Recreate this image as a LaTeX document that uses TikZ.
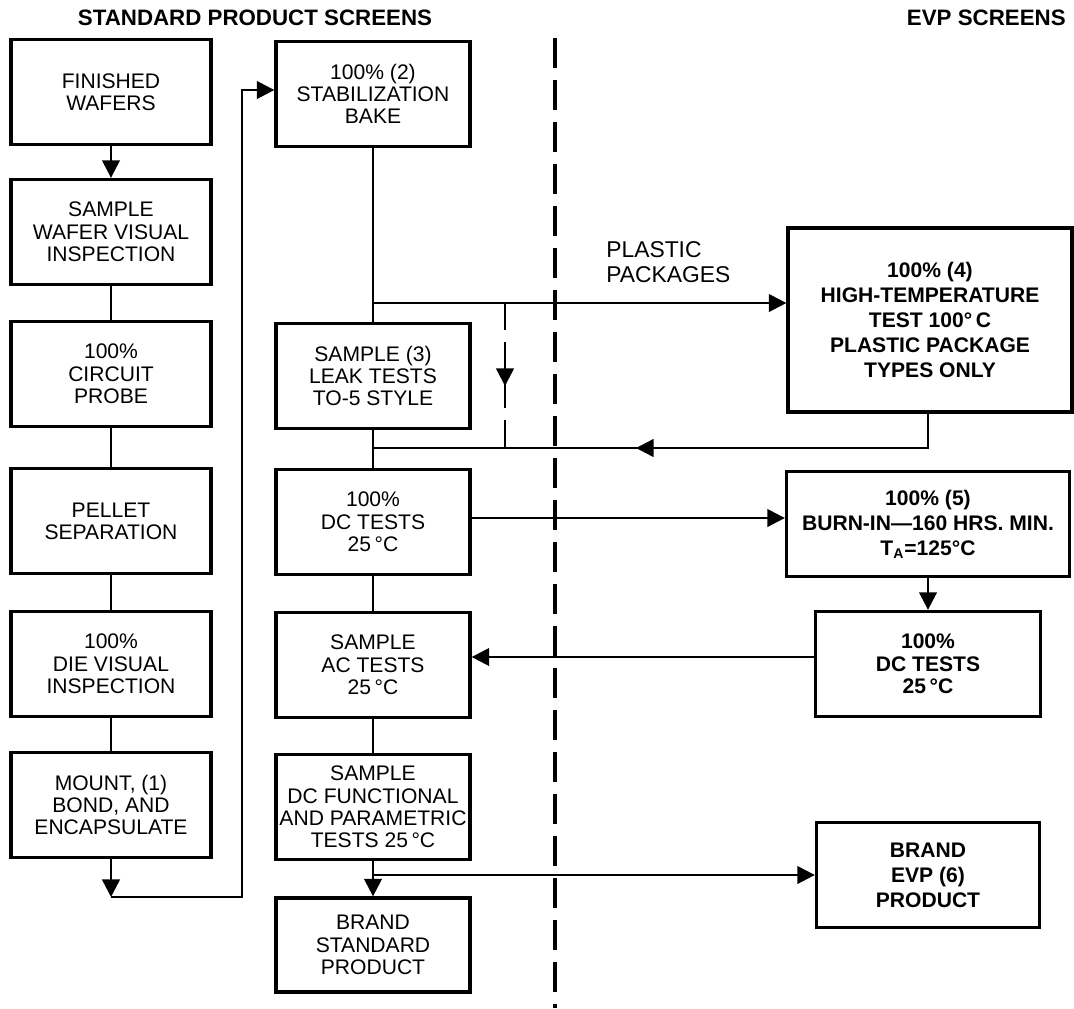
\documentclass[tikz,border=0pt]{standalone}
\usepackage{fontspec}
\setmainfont{Liberation Sans}
\usetikzlibrary{arrows.meta}

\tikzstyle{bS}=[draw, line width=1.9pt, minimum width=4cm, minimum height=2.1cm, inner sep=0pt, align=center, font=\fontsize{12}{12.7}\selectfont]
\tikzstyle{bM}=[bS, minimum width=3.88cm]
\tikzstyle{bR}=[bS, font=\fontsize{12}{14.2}\selectfont\bfseries]
\tikzstyle{hS}=[inner sep=0pt, font=\fontsize{12.7}{14}\selectfont\bfseries]
\tikzstyle{lS}=[line width=1.4pt]
\tikzstyle{aS}=[lS, -{Triangle[length=10pt,width=10pt]}]
\tikzstyle{dS}=[line width=2pt, dash pattern=on 0.6cm off 0.24cm]

\begin{document}
\begin{tikzpicture}[x=0.02cm, y=-0.02cm]
    \useasboundingbox (0,0) rectangle (1074,1008);
    \draw (255,18) node[hS] (hStd) {STANDARD PRODUCT SCREENS};
    \draw (1066,18) node[hS, anchor=east] (hEvp) {EVP SCREENS};
    % standard product column
    \draw (111,92) node[bS] (fw) {FINISHED\\WAFERS};
    \draw (111,232) node[bS] (swv) {SAMPLE\\WAFER VISUAL\\INSPECTION};
    \draw (111,374) node[bS] (cp) {100\%\\CIRCUIT\\PROBE};
    \draw (111,521) node[bS] (ps) {PELLET\\SEPARATION};
    \draw (111,664) node[bS] (dvi) {100\%\\DIE VISUAL\\INSPECTION};
    \draw (111,805) node[bS] (mbe) {MOUNT, (1)\\BOND, AND\\ENCAPSULATE};
    \draw (373,94) node[bM] (sb) {100\% (2)\\STABILIZATION\\BAKE};
    \draw (373,376) node[bM] (lt) {SAMPLE (3)\\LEAK TESTS\\TO-5 STYLE};
    \draw (373,522) node[bM] (dc) {100\%\\DC TESTS\\25\,°C};
    \draw (373,665) node[bM] (ac) {SAMPLE\\AC TESTS\\25\,°C};
    \draw (373,807) node[bM] (df) {SAMPLE\\DC FUNCTIONAL\\AND PARAMETRIC\\TESTS 25\,°C};
    \draw (373,945) node[bM, minimum height=1.88cm] (bs) {BRAND\\STANDARD\\PRODUCT};
    % evp column
    \draw (606,262) node[anchor=west, inner sep=0pt, align=left, font=\fontsize{13}{14}\selectfont] (pl) {PLASTIC\\PACKAGES};
    \draw (930,320) node[bR, minimum width=5.68cm, minimum height=3.68cm] (ht) {100\% (4)\\HIGH-TEMPERATURE\\TEST 100°\,C\\PLASTIC PACKAGE\\TYPES ONLY};
    \draw (928,524) node[bR, minimum width=5.66cm] (bi) {100\% (5)\\BURN-IN—160 HRS. MIN.\\T\textsubscript{A}=125°C};
    \draw (928,664) node[bR, minimum width=4.5cm, font=\fontsize{12}{12.7}\selectfont\bfseries] (rdc) {100\%\\DC TESTS\\25\,°C};
    \draw (928,875) node[bR, minimum width=4.46cm] (be) {BRAND\\EVP (6)\\PRODUCT};
    \coordinate (lpB) at (111,897);
    \coordinate (lpT) at (242,90);
    \coordinate (pp) at (373,303);
    \coordinate (pr) at (373,448);
    \coordinate (pb) at (373,875);
    \coordinate (rt) at (928,448);
    \coordinate (dT) at (505,303);
    \coordinate (dB) at (505,448);
    \coordinate (divT) at (555,38);
    \coordinate (divB) at (555,1008);
    \path
        (fw) edge[aS] (swv)
        (swv) edge[lS] (cp)
        (cp) edge[lS] (ps)
        (ps) edge[lS] (dvi)
        (dvi) edge[lS] (mbe)
        (mbe) edge[aS] (lpB)
        (sb) edge[lS] (lt)
        (lt) edge[lS] (dc)
        (dc) edge[lS] (ac)
        (ac) edge[lS] (df)
        (df) edge[aS] (bs)
        (bi) edge[aS] (rdc)
    ;
    \draw[aS] (lpB) -| (lpT) -- (sb.west |- lpT);
    \draw[aS] (pp) -- (ht.west |- pp);
    \draw[lS] (ht.south -| rt) -- (rt) -- (pr);
    \draw[aS] (rt) ++(-240,0) -- ++(-52,0);
    \draw[aS] (dc.east |- 0,518) -- (bi.west |- 0,518);
    \draw[aS] (rdc.west |- 0,657) -- (ac.east |- 0,657);
    \draw[aS] (pb) -- (be.west |- pb);
    % dashed lines
    \draw[lS] (dT) -- ++(0,27);
    \draw[aS] (dT) ++(0,39) -- ++(0,44);
    \draw[lS] (dT) ++(0,77) -- ++(0,28);
    \draw[lS] (dB) -- ++(0,-28);
    \draw[dS] (divT) -- (divB);
\end{tikzpicture}
\end{document}
